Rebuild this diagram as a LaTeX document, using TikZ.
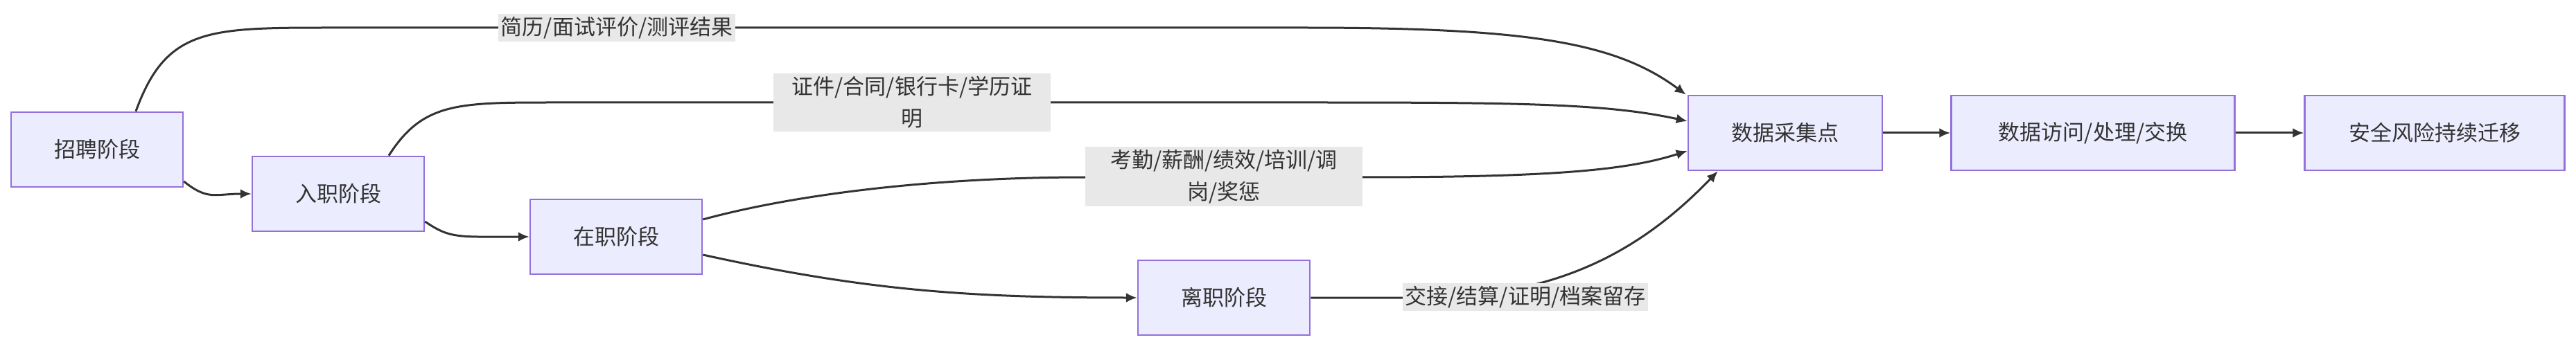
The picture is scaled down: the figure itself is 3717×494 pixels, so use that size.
\documentclass[tikz,border=0pt]{standalone}
\usepackage{fontspec}
\setmainfont{Noto Sans CJK SC}
\usetikzlibrary{arrows.meta,calc}
\definecolor{boxfill}{HTML}{ECECFF}
\definecolor{boxline}{HTML}{9370DB}
\definecolor{ink}{HTML}{333333}
\definecolor{labelbg}{HTML}{E8E8E8}
\tikzset{
    stage/.style={draw=boxline, fill=boxfill, line width=2.5pt, text=ink,
        minimum width=248pt, minimum height=108pt, inner sep=0pt,
        font=\fontsize{31}{38}\selectfont},
    tag/.style={fill=labelbg, text=ink, inner sep=4pt, align=center,
        font=\fontsize{31}{46}\selectfont},
    flow/.style={draw=ink, line width=3pt, -{Latex[length=16pt,width=14pt]}}
}
\begin{document}
\begin{tikzpicture}[x=1pt, y=-1pt]
    \useasboundingbox (0,0) rectangle (3717,494);
    % stages
    \node[stage] (zp) at (140,216) {招聘阶段};
    \node[stage] (rz) at (488,280) {入职阶段};
    \node[stage] (zz) at (889,342) {在职阶段};
    \node[stage] (lz) at (1766,430) {离职阶段};
    \node[stage, minimum width=280pt] (cj) at (2576,192) {数据采集点};
    \node[stage, minimum width=409pt] (fw) at (3020,192) {数据访问/处理/交换};
    \node[stage, minimum width=375pt] (aq) at (3513,192) {安全风险持续迁移};
    % edges
    \draw[flow] ($(zp.north)+(56,0)$) .. controls (240,40) and (300,40) .. (480,40)
        -- (1880,40) .. controls (2200,40) and (2330,60) .. ($(cj.north west)+(-2,0)$);
    \draw[flow] ($(rz.north)+(73,0)$) .. controls (610,148) and (660,148) .. (800,148)
        -- (1900,148) .. controls (2200,148) and (2320,150) .. ($(cj.west)+(0,-17)$);
    \draw[flow] ($(zz.east)+(0,-25)$) .. controls (1150,280) and (1350,256) .. (1566,256)
        -- (1966,256) .. controls (2250,256) and (2350,245) .. ($(cj.west)+(0,26)$);
    \draw[flow] ($(zz.east)+(0,26)$) .. controls (1250,420) and (1400,430) .. (lz.west);
    \draw[flow] (lz.east) -- (2050,430) .. controls (2250,430) and (2370,360) .. ($(cj.south west)+(44,0)$);
    \draw[flow] (zp.east |- 0,262) .. controls (300,290) and (310,280) .. (rz.west);
    \draw[flow] (rz.east |- 0,320) .. controls (650,345) and (660,342) .. (zz.west);
    \draw[flow] (cj) -- (fw);
    \draw[flow] (fw) -- (aq);
    % edge labels
    \node[tag] (t1) at (890,40) {简历/面试评价/测评结果};
    \node[tag, text width=392pt] (t2) at (1316,148) {证件/合同/银行卡/学历证\\明};
    \node[tag, text width=392pt] (t3) at (1766,255) {考勤/薪酬/绩效/培训/调\\岗/奖惩};
    \node[tag] (t4) at (2201,429) {交接/结算/证明/档案留存};
\end{tikzpicture}
\end{document}
